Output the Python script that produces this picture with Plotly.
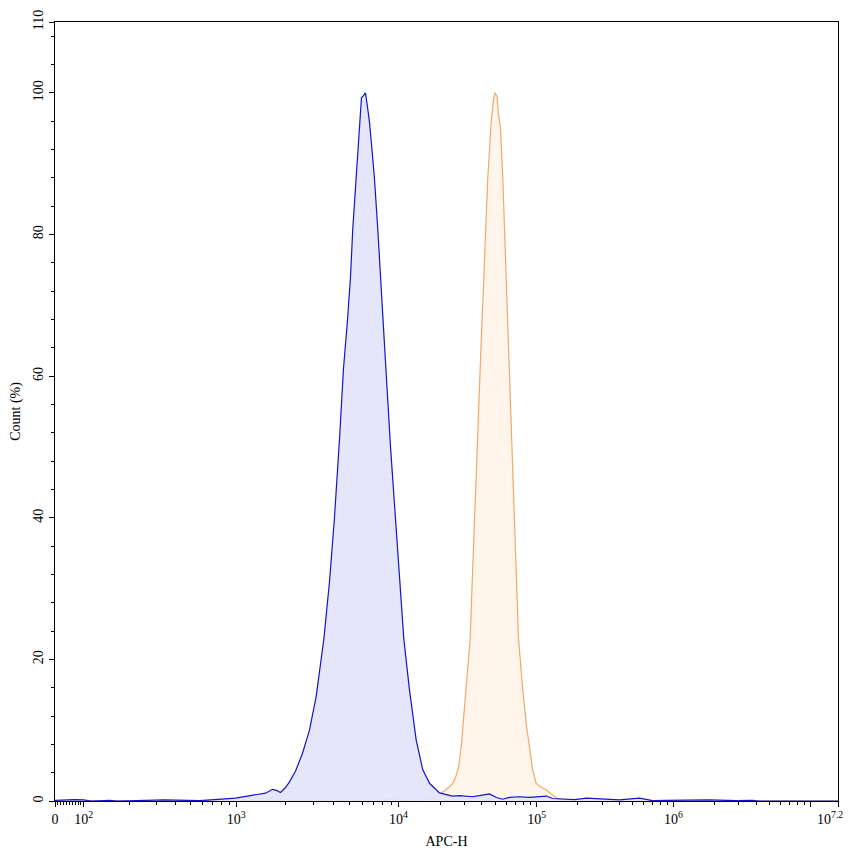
"""
APC-H histogram overlay (flow cytometry style) with Plotly
"""

import numpy as np
import plotly.graph_objects as go

# x values are display channels (0-1000 across the APC-H axis), y is count in % of max
blue_channel = [0, 8.3, 24.9, 36.4, 46.6, 69.6, 79.8, 139.8, 155.2, 171.8, 184.5, 203.7,
                216.5, 230.5, 245.8, 261.2, 268.8, 277.8, 282.9, 288.0, 294.4, 299.5,
                307.1, 316.1, 325.0, 333.6, 337.8, 343.3, 350.6, 356.9, 363.3, 368.4,
                373.6, 377.4, 380.3, 384.7, 388.9, 391.4, 394.0, 396.5, 399.1, 401.6,
                404.8, 408.0, 412.2, 415.7, 422.1, 428.5, 434.9, 440.0, 445.4, 452.7,
                461.3, 469.7, 478.3, 491.0, 507.6, 516.6, 533.2, 542.1, 554.9, 563.8,
                571.5, 580.4, 593.2, 606.0, 618.8, 627.7, 635.4, 648.1, 663.5, 678.8,
                699.2, 720.9, 746.5, 763.1, 780.9, 806.5, 835.9, 870.3, 890.8, 899.7,
                938.0, 1000.0]
blue_count = [0.1, 0.15, 0.2, 0.15, 0, 0.1, 0, 0.15, 0.1, 0.15, 0.05, 0.2,
              0.25, 0.4, 0.7, 0.95, 1.1, 1.65, 1.5, 1.2, 1.9, 2.7,
              4.2, 6.75, 10, 14.8, 18.1, 22.8, 31, 40, 51, 61,
              68, 74, 80.8, 88.3, 95.9, 99.3, 99.6, 100, 98, 95.9,
              92, 87.9, 80.8, 73.7, 62, 50, 40, 31, 23, 15.7,
              8.6, 4.4, 2.5, 1.15, 0.7, 0.75, 0.6, 0.75, 1.0, 0.5,
              0.25, 0.5, 0.6, 0.5, 0.65, 0.7, 0.35, 0.25, 0.2, 0.4,
              0.3, 0.15, 0.4, 0.05, 0.1, 0.15, 0.15, 0.05, 0.1, 0,
              0, 0]

orange_channel = [0, 286.7, 312.2, 350.6, 388.9, 420.8, 431.0, 440.0, 459.1, 469.3,
                  478.3, 486.8, 492.3, 499.6, 503.8, 508.0, 512.1, 515.7, 519.1, 523.0,
                  526.8, 530.2, 533.2, 537.0, 540.8, 544.7, 547.6, 549.8, 552.7, 557.1,
                  560.0, 561.9, 564.5, 566.4, 568.9, 571.9, 574.1, 576.2, 577.9, 581.7,
                  585.6, 589.4, 591.9, 597.4, 602.2, 606.0, 609.8, 614.5, 620.0, 627.3,
                  634.1, 639.2, 644.3, 652.0, 663.5, 1000.0]
orange_count = [0, 0, 0.1, 0.05, 0.1, 0.15, 0.3, 0.1, 0.1, 0.15,
                0.3, 0.6, 1.0, 1.6, 2.0, 2.5, 3.5, 4.9, 8, 13.3,
                18, 22.8, 32, 44, 55, 66, 73.7, 80.8, 87.9, 95.9,
                99, 100, 99.5, 97, 95, 87.9, 80.8, 73.7, 68, 56.7,
                45, 32, 23, 15.7, 10.5, 7.7, 4.5, 2.5, 2.0, 1.6,
                0.9, 0.5, 0.3, 0.1, 0, 0]

# axis decades and where they sit on the channel scale
decade_exponents = [2, 3, 4, 5, 6, 7.2]
decade_channels = [36.8, 231.4, 438.7, 615.3, 789.9, 1000.0]

y_major = [0, 20, 40, 60, 80, 100, 110]
y_minor = [v for v in range(4, 110, 4) if v % 20 != 0]

# x ticks: 0, labelled decades, unlabelled 10^7, log minors within decades
per_decade = np.diff(decade_channels) / np.diff(decade_exponents)
x_major = [0.0] + decade_channels + [decade_channels[4] + per_decade[4]]
x_text = ["0"] + ["10<sup>%g</sup>" % e for e in decade_exponents] + [""]
# the last decade label sits flush with the right edge, drawn as an annotation below
x_text[-2] = ""
x_minor = [decade_channels[0] * m / 10 for m in range(1, 10)]
for i in range(5):
    for m in range(2, 10):
        x_minor.append(decade_channels[i] + np.log10(m) * per_decade[i])

font = dict(family="Liberation Serif", size=14, color="black")

fig = go.Figure()

fig.add_trace(go.Scatter(
    x=orange_channel, y=orange_count,
    mode="lines",
    line=dict(color="#F2A86A", width=1.2),
    fill="tozeroy",
    fillcolor="#FFF5EB",
    showlegend=False,
))

fig.add_trace(go.Scatter(
    x=blue_channel, y=blue_count,
    mode="lines",
    line=dict(color="#1414C8", width=1.2),
    fill="tozeroy",
    fillcolor="rgba(228,228,251,0.92)",
    showlegend=False,
))

fig.add_annotation(
    x=decade_channels[-1], y=0, xref="x", yref="y",
    text="10<sup>%g</sup>" % decade_exponents[-1],
    showarrow=False,
    xanchor="right", yanchor="top",
    xshift=7, yshift=-6,
    font=font,
)

# page body adds an 8px margin, so the figure is a bit smaller than the window
fig.update_layout(
    width=845,
    height=848,
    paper_bgcolor="white",
    plot_bgcolor="white",
    margin=dict(l=47, r=15, t=14, b=55),
    font=font,
    showlegend=False,
)

fig.update_xaxes(
    range=[0, 1000],
    automargin=False,
    tickmode="array",
    tickvals=x_major,
    ticktext=x_text,
    ticks="outside",
    ticklen=5,
    tickcolor="black",
    minor=dict(tickmode="array", tickvals=x_minor, ticks="outside", ticklen=3, tickcolor="black"),
    showline=True,
    linecolor="black",
    linewidth=1,
    mirror=True,
    showgrid=False,
    zeroline=False,
    tickfont=font,
    title=dict(text="APC-H", font=font, standoff=10),
)

fig.update_yaxes(
    range=[0, 110],
    automargin=False,
    tickmode="array",
    tickvals=y_major,
    ticks="outside",
    ticklen=5,
    tickcolor="black",
    tickangle=-90,
    ticklabelstandoff=0,
    minor=dict(tickmode="array", tickvals=y_minor, ticks="outside", ticklen=3, tickcolor="black"),
    showline=True,
    linecolor="black",
    linewidth=1,
    mirror=True,
    showgrid=False,
    zeroline=False,
    tickfont=font,
    title=dict(text="Count (%)", font=font, standoff=11),
)

fig.write_html("out.html")
